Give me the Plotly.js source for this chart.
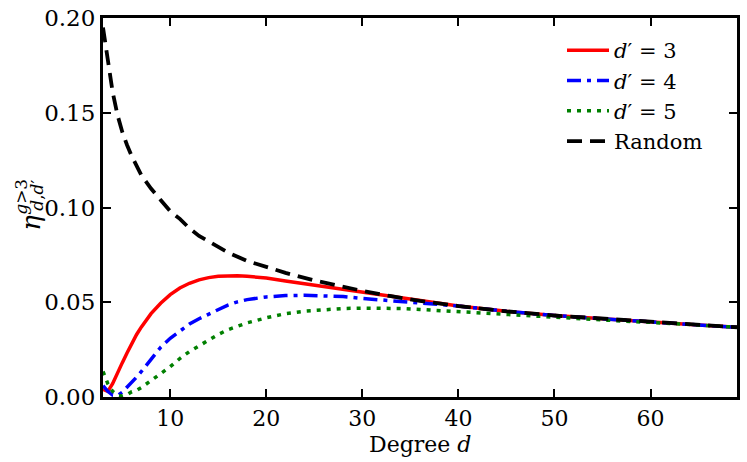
<!DOCTYPE html>
<html>
<head>
<meta charset="utf-8">
<script src="https://cdn.plot.ly/plotly-3.0.1.min.js"></script>
<style>
html,body{margin:0;padding:0;background:#fff;}
#chart{width:747px;height:462px;}
</style>
</head>
<body>
<div id="chart"></div>
<script>
// Degree d values and series
const dRandom = [3,3.5,4,4.5,5,5.5,6,7,8,9,10,11,12,13,14,16,18,20,22,25,28,30,33,36,40,45,50,55,60,65,69];
const etaRandom = [0.195,0.178,0.161,0.149,0.140,0.133,0.127,0.117,0.110,0.104,0.098,0.094,0.089,0.085,0.082,0.0763,0.0718,0.0685,0.0655,0.0615,0.058,0.056,0.0532,0.0507,0.048,0.0452,0.043,0.0413,0.0395,0.038,0.0368];

const dD3 = [3,3.5,4,4.5,5,5.5,6,6.5,7,7.5,8,9,10,11,12,13,14,15,16,17,18,20,22,24,26,28,30,33,36,40,45,50,55,60,65,69];
const etaD3 = [0.004,0.003,0.007,0.013,0.018,0.0232,0.0285,0.033,0.037,0.0405,0.044,0.0495,0.054,0.0575,0.060,0.0618,0.063,0.0637,0.064,0.064,0.0637,0.0628,0.0612,0.0597,0.0584,0.057,0.0553,0.0531,0.0507,0.048,0.0452,0.043,0.0413,0.0395,0.038,0.0368];

const dD4 = [3,3.5,4,4.5,5,5.5,6,6.5,7,7.5,8,9,10,11,12,13,14,15,16,17,18,20,22,24,26,28,30,32,34,36,38,40,45,50,55,60,65,69];
const etaD4 = [0.006,0.003,0.001,0.0008,0.0025,0.005,0.0075,0.0105,0.0135,0.0168,0.0203,0.0262,0.031,0.035,0.0385,0.0413,0.0438,0.0463,0.0485,0.0502,0.0514,0.0528,0.0535,0.0537,0.0535,0.053,0.052,0.0512,0.0505,0.0497,0.049,0.048,0.0452,0.043,0.0413,0.0395,0.038,0.0368];

const dD5 = [3,3.5,4,4.5,5,5.5,6,6.5,7,7.5,8,9,10,11,12,13,14,15,16,18,20,22,24,26,28,30,32,34,36,38,40,42,45,50,55,58,60,65,69];
const etaD5 = [0.0135,0.007,0.003,0.001,0.0005,0.0012,0.0028,0.0035,0.005,0.0068,0.0085,0.012,0.016,0.0203,0.024,0.027,0.0302,0.033,0.0355,0.0391,0.0418,0.044,0.0453,0.0462,0.0467,0.0469,0.0469,0.0467,0.0462,0.0456,0.045,0.0444,0.0433,0.0418,0.0406,0.0398,0.0394,0.038,0.0368];

const seriesNames = ["<i>d</i>′ = 3","<i>d</i>′ = 4","<i>d</i>′ = 5","Random"];
const xTicks = [10,20,30,40,50,60];
const yTicks = [0,0.05,0.10,0.15,0.20];
const yTickText = ["0.00","0.05","0.10","0.15","0.20"];

const FONT = "DejaVu Serif";

const traces = [
  {x:dD3, y:etaD3, name:seriesNames[0], mode:"lines", line:{color:"#ff0000", width:3.5}},
  {x:dD4, y:etaD4, name:seriesNames[1], mode:"lines", line:{color:"#0000ff", width:3.5, dash:"14px,6px,4px,6px"}},
  {x:dD5, y:etaD5, name:seriesNames[2], mode:"lines", line:{color:"#008000", width:3.5, dash:"4px,6px"}},
  {x:dRandom, y:etaRandom, name:seriesNames[3], mode:"lines", line:{color:"#000000", width:3.8, dash:"15px,8px"}}
];

function px2paperX(p){ return (p-103)/634; }
function px2paperY(p){ return 1-(p-18)/379.5; }

const layout = {
  width:747, height:462,
  margin:{l:103, r:10, t:18, b:64.5, pad:0},
  paper_bgcolor:"#fff", plot_bgcolor:"#fff",
  font:{family:FONT, size:23, color:"#000"},
  showlegend:true,
  legend:{x:px2paperX(562), y:px2paperY(30), xanchor:"left", yanchor:"top",
          bgcolor:"rgba(0,0,0,0)", borderwidth:0, font:{family:FONT, size:21},
          tracegroupgap:0, itemwidth:42},
  xaxis:{range:[3,69], tickvals:xTicks, ticks:"inside", ticklen:8, tickwidth:2, tickcolor:"#000",
         showline:true, linewidth:3, linecolor:"#000", mirror:"ticks", showgrid:false, zeroline:false,
         tickfont:{family:FONT, size:22}},
  yaxis:{range:[0,0.2], tickvals:yTicks, ticktext:yTickText, ticks:"inside", ticklen:8, tickwidth:2, tickcolor:"#000",
         showline:true, linewidth:3, linecolor:"#000", mirror:"ticks", showgrid:false, zeroline:false,
         tickfont:{family:FONT, size:23}},
  annotations:[
    {xref:"paper", yref:"paper", x:0.5, y:px2paperY(445), text:"Degree <i>d</i>", showarrow:false,
     font:{family:FONT, size:22}, xanchor:"center", yanchor:"middle"},
    {xref:"paper", yref:"paper", x:px2paperX(31), y:px2paperY(223), text:"<i>η</i>", showarrow:false,
     textangle:-90, font:{family:FONT, size:26}, xanchor:"center", yanchor:"middle"},
    {xref:"paper", yref:"paper", x:px2paperX(21), y:px2paperY(197), text:"<i>g</i>&gt;3", showarrow:false,
     textangle:-90, font:{family:FONT, size:17}, xanchor:"center", yanchor:"middle"},
    {xref:"paper", yref:"paper", x:px2paperX(37), y:px2paperY(196), text:"<i>d</i>,<i>d</i>′", showarrow:false,
     textangle:-90, font:{family:FONT, size:17}, xanchor:"center", yanchor:"middle"}
  ]
};

Plotly.newPlot("chart", traces, layout, {staticPlot:true, displayModeBar:false});
</script>
</body>
</html>
